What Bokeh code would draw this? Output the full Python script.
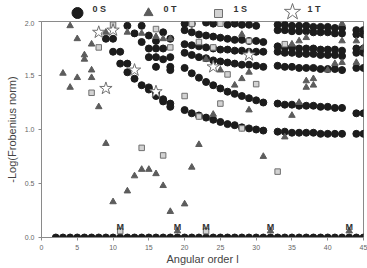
from bokeh.plotting import figure
from bokeh.layouts import column
from bokeh.models import Range1d, FixedTicker, NumeralTickFormatter
from bokeh.embed import file_html
from bokeh.resources import INLINE
from bokeh.core.properties import value

FONT = "Liberation Sans"

# ---------------- data ----------------
x_ticks = [0, 5, 10, 15, 20, 25, 30, 35, 40, 45]
y_ticks = [0.0, 0.5, 1.0, 1.5, 2.0]
series_names = ["0 S", "0 T", "1 S", "1 T"]

# 0S (circles) -- baseline row
os_base_l = [2, 3, 4, 5, 6, 7, 8, 9, 10, 11, 12, 13, 14, 15, 16, 17, 18, 19, 20, 21, 22, 23,
             24, 25, 26, 27, 28, 29, 30, 31, 32, 33, 34, 35, 36, 37, 38, 39, 40, 41, 42, 43, 44, 45]
os_base_v = [0.0, 0.0, 0.0, 0.0, 0.0, 0.0, 0.0, 0.0, 0.0, 0.0, 0.0, 0.0, 0.0, 0.0, 0.0, 0.0,
             0.0, 0.0, 0.0, 0.0, 0.0, 0.0, 0.0, 0.0, 0.0, 0.0, 0.0, 0.0, 0.0, 0.0, 0.0, 0.0,
             0.0, 0.0, 0.0, 0.0, 0.0, 0.0, 0.0, 0.0, 0.0, 0.0, 0.0, 0.0]

# 0S group l = 9..18
os_a_l = [9, 10, 10, 11, 11, 12, 12, 12, 13, 13, 14, 14, 14, 15, 15, 15, 15, 15,
          16, 16, 16, 16, 16, 16, 17, 17, 17, 17, 17, 18, 18, 18, 18, 18, 18]
os_a_v = [1.84, 1.84, 1.72, 1.72, 1.61, 1.96, 1.61, 1.53, 1.89, 1.47, 1.96, 1.81, 1.41,
          1.87, 1.75, 1.67, 1.39, 1.37, 1.82, 1.75, 1.67, 1.58, 1.34, 1.31,
          1.90, 1.75, 1.65, 1.28, 1.26, 1.84, 1.67, 1.58, 1.55, 1.24, 1.21]

# 0S group l = 20..31 (branches)
os_b_l = [20, 21, 22, 23, 24, 25, 26, 27, 28, 29, 30, 31]
os_b1 = [1.18, 1.15, 1.13, 1.11, 1.09, 1.07, 1.05, 1.04, 1.02, 1.01, 1.00, 0.99]
os_b2 = [1.57, 1.52, 1.48, 1.44, 1.41, 1.38, 1.35, 1.33, 1.31, 1.29, 1.27, 1.25]
os_b3 = [1.71, 1.69, 1.67, 1.66, 1.64, 1.63, 1.62, 1.61, 1.60, 1.60, 1.59, 1.58]
os_b4 = [1.79, 1.78, 1.77, 1.76, 1.75, 1.74, 1.74, 1.73, 1.73, 1.72, 1.72, 1.72]
os_b5 = [1.92, 1.90, 1.88, 1.87, 1.86, 1.85, 1.84, 1.83, 1.83, 1.82, 1.82, 1.81]
os_b6_l = [20, 21, 23, 24, 26, 27, 28, 29, 30]
os_b6 = [1.98, 1.98, 1.99, 1.98, 1.97, 1.98, 1.97, 1.97, 1.96]

# 0S group l = 33..42
os_c_l = [33, 34, 35, 36, 37, 38, 39, 40, 41, 42]
os_c1 = [0.98, 0.98, 0.97, 0.97, 0.97, 0.97, 0.96, 0.96, 0.96, 0.96]
os_c2 = [1.24, 1.23, 1.23, 1.22, 1.22, 1.22, 1.21, 1.21, 1.20, 1.20]
os_c3 = [1.59, 1.58, 1.58, 1.57, 1.57, 1.57, 1.56, 1.56, 1.56, 1.55]
os_c4 = [1.72, 1.71, 1.71, 1.70, 1.70, 1.70, 1.69, 1.69, 1.69, 1.68]
os_c5 = [1.77, 1.76, 1.76, 1.75, 1.75, 1.75, 1.74, 1.74, 1.74, 1.73]
os_c6 = [1.92, 1.92, 1.91, 1.91, 1.91, 1.90, 1.90, 1.90, 1.89, 1.89]
os_c7 = [1.97, 1.97, 1.96, 1.96, 1.96, 1.95, 1.95, 1.95, 1.94, 1.94]

# 0S group l = 44..45
os_d_l = [44, 44, 44, 44, 44, 44, 44, 45, 45, 45, 45, 45, 45, 45]
os_d_v = [1.92, 1.88, 1.75, 1.71, 1.57, 1.15, 0.96, 1.92, 1.88, 1.75, 1.71, 1.57, 1.15, 0.96]

# 0T (triangles)
ot_l = [3, 4, 4, 5, 5, 6, 6, 7, 7, 7, 8, 9, 9, 10, 12, 12, 13, 14, 14, 15, 16, 16, 17, 17,
        18, 18, 19, 20, 21, 21, 22, 23, 24, 25, 27, 28, 28, 29, 29, 31, 32, 34, 35, 35,
        36, 36, 37, 37, 37, 38, 38, 40, 41, 42, 42, 42, 43, 44, 44, 45]
ot_v = [1.52, 1.96, 1.39, 1.84, 1.48, 1.69, 1.65, 1.79, 1.55, 1.48, 1.21, 1.90, 0.87, 0.33,
        1.90, 0.43, 0.57, 1.89, 0.63, 0.63, 1.86, 0.59, 1.84, 0.48, 1.84, 0.24, 0.06, 0.31,
        1.98, 0.65, 0.86, 1.65, 1.14, 1.55, 1.41, 1.88, 1.47, 1.53, 1.18, 0.75, 0.06, 0.93,
        1.79, 1.13, 1.82, 1.25, 1.85, 1.45, 1.39, 1.47, 1.41, 1.55, 1.61, 1.98, 1.82, 1.62,
        0.06, 1.82, 1.62, 1.76]

# 1S (squares)
s1_l = [7, 8, 10, 11, 14, 16, 17, 18, 20, 21, 22, 22, 23, 24, 25, 25, 26, 28, 29, 30, 33, 34]
s1_v = [1.34, 1.76, 1.97, 0.06, 0.83, 1.93, 0.76, 1.76, 1.31, 1.98, 1.81, 1.12, 0.06, 1.76,
        1.98, 1.24, 1.51, 1.01, 1.82, 1.42, 0.61, 1.79]

# 1T (stars)
t1_l = [8, 9, 10, 13, 16, 24, 29]
t1_v = [1.90, 1.38, 1.92, 1.55, 1.35, 1.58, 1.69]

# mode-change markers
m_l = [11, 19, 23, 32, 43]
m_v = [0.06, 0.06, 0.06, 0.06, 0.06]
m_text = ["M", "M", "M", "M", "M"]

# assemble 0S
os_l = (os_base_l + os_a_l + os_b_l * 5 + os_b6_l + os_c_l * 7 + os_d_l)
os_v = (os_base_v + os_a_v + os_b1 + os_b2 + os_b3 + os_b4 + os_b5 + os_b6
        + os_c1 + os_c2 + os_c3 + os_c4 + os_c5 + os_c6 + os_c7 + os_d_v)

# ---------------- main figure ----------------
p = figure(width=367, height=248, x_range=Range1d(0, 45), y_range=Range1d(0, 2),
           output_backend="svg", toolbar_location=None,
           min_border_left=41, min_border_right=4, min_border_top=1, min_border_bottom=31)
p.xgrid.visible = False
p.ygrid.visible = False
p.outline_line_color = "#8a8a8a"
p.background_fill_color = "white"
p.border_fill_color = "white"

p.xaxis.ticker = FixedTicker(ticks=x_ticks)
p.yaxis.ticker = FixedTicker(ticks=y_ticks)
p.yaxis.formatter = NumeralTickFormatter(format="0.0")
for ax in (p.xaxis, p.yaxis):
    ax.axis_line_color = "#8a8a8a"
    ax.major_tick_line_color = "#8a8a8a"
    ax.major_tick_out = 3
    ax.major_tick_in = 0
    ax.minor_tick_line_color = None
    ax.major_label_text_font = FONT
    ax.major_label_text_font_size = "7px"
    ax.major_label_text_color = "#666666"
    ax.axis_label_text_font = FONT
    ax.axis_label_text_font_size = "11px"
    ax.axis_label_text_font_style = "normal"
    ax.axis_label_text_color = "#444444"
p.xaxis.axis_label = "Angular order l"
p.yaxis.axis_label = "-Log(Frobenius norm)"
p.xaxis.major_label_standoff = 4
p.xaxis.axis_label_standoff = 0
p.yaxis.major_label_standoff = 4
p.yaxis.axis_label_standoff = 4

p.scatter(os_l, os_v, marker="circle", size=7, fill_color="#1c1c1c", line_color="#1c1c1c")
p.scatter(ot_l, ot_v, marker="triangle", size=6.5, fill_color="#5c5c5c", line_color="#5c5c5c")
p.scatter(s1_l, s1_v, marker="square", size=5.5, fill_color="#d2d2d2", line_color="#707070")
p.scatter(t1_l, t1_v, marker="star", size=13, fill_color="white", line_color="#707070")

p.text(m_l, m_v, text=m_text, y_offset=-4, text_font=value(FONT), text_font_style="bold",
       text_font_size="9px", text_color="#333333", text_align="center",
       text_baseline="alphabetic")

# ---------------- legend strip (frame is aligned with the main frame: px 41..363) ----------------
leg = figure(width=367, height=20, x_range=Range1d(41, 363), y_range=Range1d(0, 20),
             output_backend="svg", toolbar_location=None, min_border=0)
leg.axis.visible = False
leg.xgrid.visible = False
leg.ygrid.visible = False
leg.outline_line_color = None

leg_mx = [77, 148, 218, 292]
leg_tx = [92, 163, 233, 307]
leg.scatter([leg_mx[0]], [7.5], marker="circle", size=11, fill_color="#1c1c1c", line_color="#1c1c1c")
leg.scatter([leg_mx[1]], [7.5], marker="triangle", size=9, fill_color="#5c5c5c", line_color="#5c5c5c")
leg.scatter([leg_mx[2]], [7], marker="square", size=8, fill_color="#d2d2d2", line_color="#707070")
leg.scatter([leg_mx[3]], [8.5], marker="star", size=17, fill_color="white", line_color="#707070")
leg.text(leg_tx, [11.5] * 4, text=series_names, text_font=value(FONT), text_font_style="bold",
         text_font_size="9px", text_color="#333333", text_align="left", text_baseline="middle")

layout = column(leg, p, spacing=0)
open("out.html", "w").write(file_html(layout, INLINE))
